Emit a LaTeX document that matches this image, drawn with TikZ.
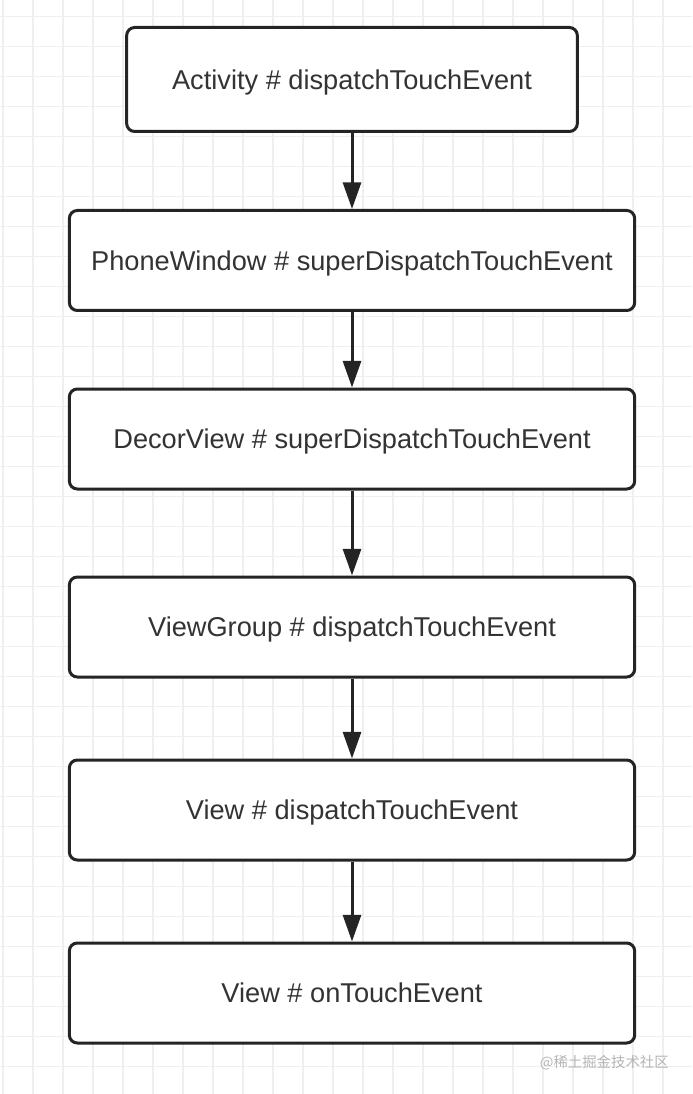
\documentclass[tikz,border=0pt]{standalone}
\usepackage{fontspec}
\setmainfont{Liberation Sans}
\newfontfamily\cjkfont{Noto Sans CJK SC}
\usetikzlibrary{arrows.meta}

\definecolor{gridgray}{RGB}{239,239,239}
\definecolor{boxline}{RGB}{34,36,38}
\definecolor{txtgray}{RGB}{51,51,51}
\definecolor{markgray}{RGB}{180,180,180}

\tikzset{
  callbox/.style={draw=boxline, line width=2.25pt, rounded corners=6pt, fill=white,
    minimum height=75pt, text=txtgray, inner sep=0pt, text depth=0pt,
    font=\fontsize{20.4}{24}\selectfont},
  callarrow/.style={draw=boxline, line width=2.25pt,
    -{Triangle[width=13.5pt,length=20pt]}}
}

\begin{document}
\begin{tikzpicture}[x=0.75pt,y=0.75pt,yscale=-1,xscale=1]
\useasboundingbox (0,0) rectangle (692,1094);

%Grid
\foreach \gx in {3,33,...,692} {
  \draw [gridgray, line width=1.1pt] (\gx,0) -- (\gx,1094);
}
\foreach \gy in {16.5,46.5,...,1094} {
  \draw [gridgray, line width=1.1pt] (0,\gy) -- (692,\gy);
}

%Shape: Rounded Rect
\node [callbox, minimum width=338pt, minimum height=78pt] (activity) at (352,79.5) {Activity \# dispatchTouchEvent};
%Shape: Rounded Rect
\node [callbox, minimum width=424pt] (phonewin) at (352,260.5) {PhoneWindow \# superDispatchTouchEvent};
%Shape: Rounded Rect
\node [callbox, minimum width=424pt] (decor) at (352,439) {DecorView \# superDispatchTouchEvent};
%Shape: Rounded Rect
\node [callbox, minimum width=424pt] (vgroup) at (352,627) {ViewGroup \# dispatchTouchEvent};
%Shape: Rounded Rect
\node [callbox, minimum width=424pt] (vdispatch) at (352,810) {View \# dispatchTouchEvent};
%Shape: Rounded Rect
\node [callbox, minimum width=424pt] (vtouch) at (352,993) {View \# onTouchEvent};

%Straight Lines
\draw [callarrow] (activity) -- (phonewin);
\draw [callarrow] (phonewin) -- (decor);
\draw [callarrow] (decor) -- (vgroup);
\draw [callarrow] (vgroup) -- (vdispatch);
\draw [callarrow] (vdispatch) -- (vtouch);

% Text Node
\node [anchor=east, text=markgray, inner sep=0pt, font=\cjkfont\fontsize{10.8}{12}\selectfont] (mark) at (669,1063) {@稀土掘金技术社区};

\end{tikzpicture}
\end{document}
